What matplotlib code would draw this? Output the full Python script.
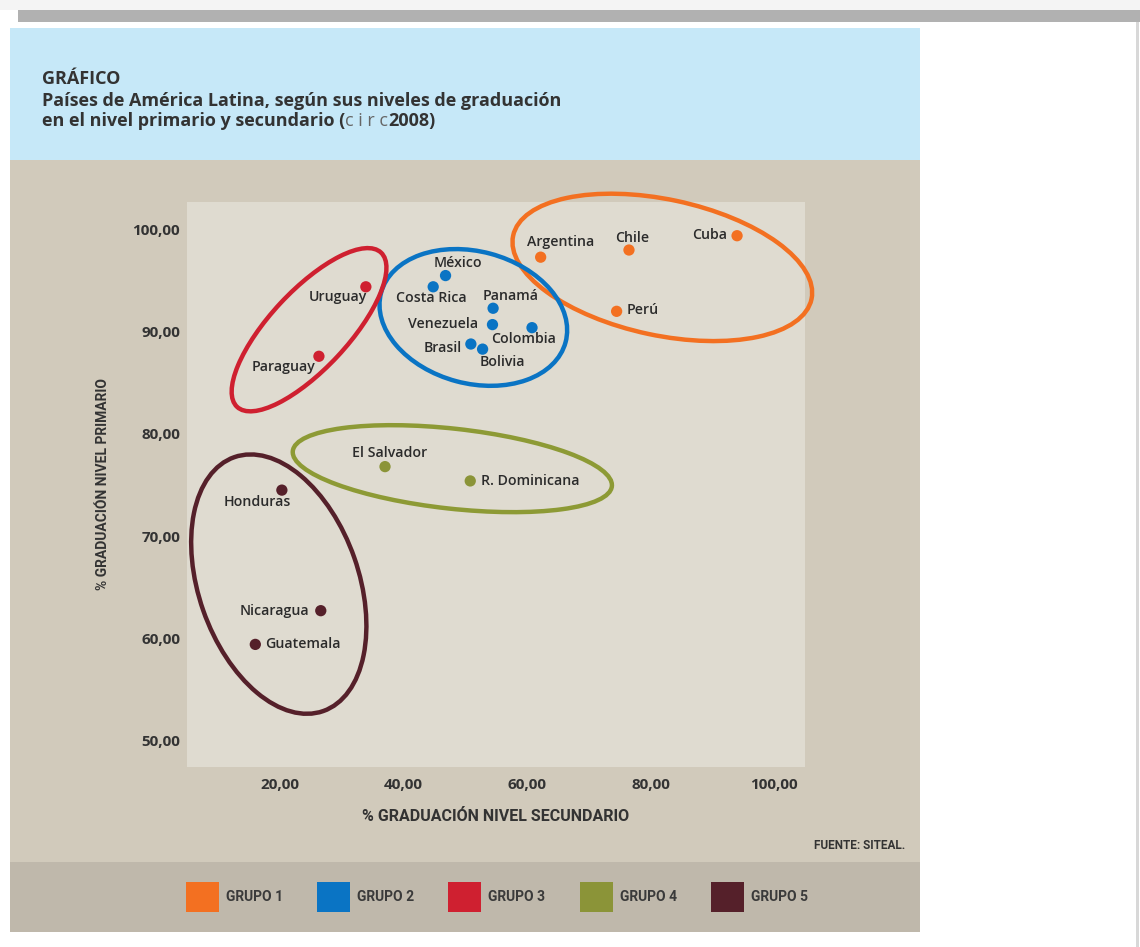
#!/usr/bin/env python3

import matplotlib.pyplot as plt
from matplotlib.patches import Ellipse, Rectangle
from matplotlib.transforms import ScaledTranslation

# Graduation rates (%) by country, circa 2008
countries = ["Argentina", "Chile", "Cuba", "Perú",
             "México", "Costa Rica", "Panamá", "Venezuela", "Colombia", "Brasil", "Bolivia",
             "Uruguay", "Paraguay",
             "El Salvador", "R. Dominicana",
             "Honduras", "Nicaragua", "Guatemala"]
secundario = [62.2, 76.5, 94.0, 74.5,
              46.8, 44.8, 54.5, 54.4, 60.8, 50.9, 52.8,
              33.9, 26.3,
              37.0, 50.8,
              20.3, 26.6, 16.0]
primario = [97.3, 98.0, 99.4, 92.0,
            95.5, 94.4, 92.3, 90.7, 90.4, 88.8, 88.3,
            94.4, 87.6,
            76.8, 75.4,
            74.5, 62.7, 59.4]
grupo = [0, 0, 0, 0,
         1, 1, 1, 1, 1, 1, 1,
         2, 2,
         3, 3,
         4, 4, 4]

group_names = ["GRUPO 1", "GRUPO 2", "GRUPO 3", "GRUPO 4", "GRUPO 5"]
group_colors = ["#f37021", "#0a74c4", "#cf2030", "#8b9438", "#55202a"]
ring_colors = ["#f37021", "#0a74c4", "#cf2030", "#8d9a35", "#55202a"]

x_ticks = [20, 40, 60, 80, 100]
y_ticks = [50, 60, 70, 80, 90, 100]

# label placement: offset in pixels from the dot, horizontal alignment
label_offsets = {
    "Argentina": (20, 15, "center"), "Chile": (3, 12, "center"),
    "Cuba": (-10, 1, "right"), "Perú": (10, 1, "left"),
    "México": (12, 13, "center"), "Costa Rica": (-2, -11, "center"),
    "Panamá": (18, 12, "center"), "Venezuela": (-14, 1, "right"),
    "Colombia": (-8, -11, "center"), "Brasil": (-9, -4, "right"),
    "Bolivia": (20, -13, "center"), "Uruguay": (1, -10, "right"),
    "Paraguay": (-35, -11, "center"), "El Salvador": (5, 14, "center"),
    "R. Dominicana": (11, 0, "left"), "Honduras": (-25, -12, "center"),
    "Nicaragua": (-12, 0, "right"), "Guatemala": (10, 0, "left"),
}

# rings around each group: centre (data units), width/height (px), angle
group_rings = [
    (81.9, 96.3, 305, 136, -12),
    (51.3, 91.4, 191, 132, -15),
    (24.7, 90.2, 211, 78, 47),
    (47.9, 76.6, 321, 80, -6.3),
    (19.8, 65.3, 269, 160, -70.7),
]

W, H = 1140, 947
fig = plt.figure(figsize=(W / 100, H / 100), dpi=100)
fig.patch.set_facecolor("white")

wide_font = ["Open Sans", "DejaVu Sans"]
bold_font = ["Roboto", "DejaVu Sans"]
text_color = "#333333"


def block(x0, y0, x1, y1, color):
    # rectangle given in pixel coords measured from the top-left corner
    fig.add_artist(Rectangle((x0 / W, 1 - y1 / H), (x1 - x0) / W, (y1 - y0) / H,
                             transform=fig.transFigure, facecolor=color,
                             edgecolor="none", zorder=0))


block(0, 0, W, 10, "#f4f4f4")
block(18, 10, W, 22, "#b1b1b1")
block(1136, 22, 1139, H, "#d8d8d8")
block(10, 28, 920, 160, "#c6e8f8")
block(10, 160, 920, 862, "#d1cabb")
block(10, 862, 920, 932, "#bfb8ab")

# plot area
ax = fig.add_axes([187 / W, 1 - 767 / H, (805 - 187) / W, (767 - 202) / H])
ax.set_facecolor("#dfdbd0")
for s in ax.spines.values():
    s.set_visible(False)
ax.set_xlim(4.94, 105.0)
ax.set_ylim(47.4, 102.7)

# title
fig.text(42 / W, 1 - 84 / H, "GRÁFICO", fontsize=13, fontweight="bold",
         family=wide_font, color=text_color)
fig.text(42 / W, 1 - 106 / H, "Países de América Latina, según sus niveles de graduación",
         fontsize=13, fontweight="bold", family=wide_font, color=text_color)
t1 = fig.text(42 / W, 1 - 126 / H, "en el nivel primario y secundario (",
              fontsize=13, fontweight="bold", family=wide_font, color=text_color)
t2 = ax.annotate("c i r c", xy=(1, 0), xycoords=t1, va="bottom", ha="left",
                 fontsize=13, family=wide_font, color="#666666", annotation_clip=False)
ax.annotate("2008)", xy=(1, 0), xycoords=t2, va="bottom", ha="left",
            fontsize=13, fontweight="bold", family=wide_font, color=text_color,
            annotation_clip=False)

ax.set_xticks(x_ticks)
ax.set_xticklabels([f"{v:.2f}".replace(".", ",") for v in x_ticks])
ax.set_yticks(y_ticks)
ax.set_yticklabels([f"{v:.2f}".replace(".", ",") for v in y_ticks])
ax.tick_params(length=0, labelsize=11, labelcolor=text_color)
ax.tick_params(axis="x", pad=8)
ax.tick_params(axis="y", pad=5)
for lbl in ax.get_xticklabels() + ax.get_yticklabels():
    lbl.set_fontweight("bold")
    lbl.set_family(wide_font)

ax.set_xlabel("% GRADUACIÓN NIVEL SECUNDARIO", fontsize=11.5, fontweight="bold",
              family=bold_font, color=text_color, labelpad=12)
ax.set_ylabel("% GRADUACIÓN NIVEL PRIMARIO", fontsize=10, fontweight="bold",
              family=bold_font, color=text_color, labelpad=16)

# group rings
for (cx, cy, w, h, ang), col in zip(group_rings, ring_colors):
    ring = Ellipse((0, 0), w / 100, h / 100, angle=ang, fill=False,
                   edgecolor=col, linewidth=3.2, clip_on=False,
                   transform=fig.dpi_scale_trans + ScaledTranslation(cx, cy, ax.transData))
    ax.add_patch(ring)

# country dots and names
ax.scatter(secundario, primario, s=66, c=[group_colors[g] for g in grupo],
           zorder=3, linewidths=0, clip_on=False)
for name, x, y in zip(countries, secundario, primario):
    dx, dy, ha = label_offsets[name]
    ax.annotate(name, (x, y), xytext=(dx, dy), textcoords="offset pixels",
                ha=ha, va="center", fontsize=10.2, family=wide_font, fontweight="semibold",
                color="#2b2b2b", zorder=4, annotation_clip=False)

fig.text(905 / W, 1 - 845 / H, "FUENTE: SITEAL.", ha="right", va="center",
         fontsize=8.5, fontweight="bold", family=bold_font, color=text_color)

# legend strip
sq_left = [186, 317, 448, 580, 711]
for x0, name, col in zip(sq_left, group_names, group_colors):
    block(x0, 882, x0 + 33, 912, col)
    fig.text((x0 + 40) / W, 1 - 897 / H, name, va="center", fontsize=10,
             fontweight="bold", family=bold_font, color="#3a3a3a", zorder=2)

fig.savefig("out.png", dpi=100)
